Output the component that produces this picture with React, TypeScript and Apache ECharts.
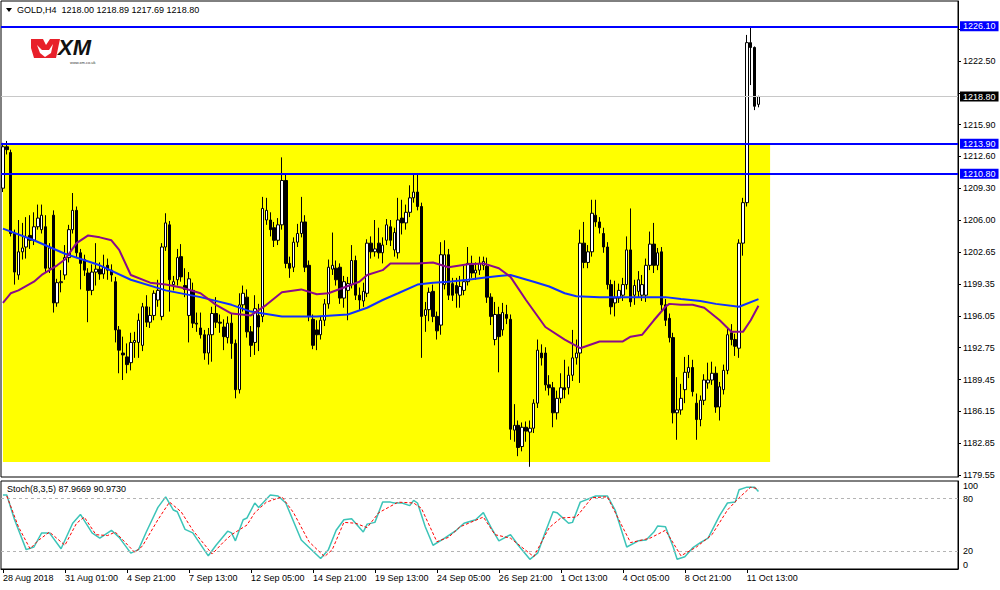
import React, { useEffect, useRef } from 'react';
import * as echarts from 'echarts';

// ---------- data ----------
const TIME_LABELS = ['28 Aug 2018', '31 Aug 01:00', '4 Sep 21:00', '7 Sep 13:00', '12 Sep 05:00', '14 Sep 21:00', '19 Sep 13:00', '24 Sep 05:00', '26 Sep 21:00', '1 Oct 13:00', '4 Oct 05:00', '8 Oct 21:00', '11 Oct 13:00'];
const BARS_PER_LABEL = 16;
const TOTAL_SLOTS = 247; // bars + empty chart shift on the right

const PRICE_TICKS = [1179.55, 1182.85, 1186.15, 1189.45, 1192.75, 1196.05, 1199.35, 1202.65, 1206.0, 1209.3, 1212.6, 1215.9, 1219.2, 1222.5, 1225.8];
const PRICE_LABELS = [1179.55, 1182.85, 1186.15, 1189.45, 1192.75, 1196.05, 1199.35, 1202.65, 1206.0, 1209.3, 1212.6, 1215.9, 1222.5];
const BLUE_LEVELS = [1226.1, 1213.9, 1210.8];
const BID_PRICE = 1218.8;
const ZONE_TOP = 1213.9;
const ZONE_BOTTOM = 1180.9;
const ZONE_LAST_BAR = 198;
const STOCH_TICKS = [0, 20, 80, 100];
const STOCH_LEVELS = [20, 80];

// [open, high, low, close]
const OHLC: number[][] = [
  [1209.3, 1214.0, 1208.9, 1213.6], [1213.6, 1214.2, 1212.8, 1213.3], [1213.0, 1213.3, 1204.3, 1204.6], [1204.6, 1205.0, 1199.3, 1200.6],
  [1200.3, 1206.0, 1199.8, 1202.7], [1202.7, 1205.7, 1201.9, 1203.1], [1203.2, 1206.3, 1202.0, 1204.2], [1204.4, 1206.5, 1203.0, 1203.9],
  [1203.9, 1206.8, 1203.4, 1205.3], [1205.3, 1207.6, 1205.0, 1206.2], [1205.0, 1207.6, 1204.6, 1206.5], [1205.3, 1206.5, 1200.6, 1201.0],
  [1201.0, 1203.6, 1200.5, 1203.1], [1206.5, 1207.0, 1196.4, 1197.4], [1197.4, 1199.9, 1197.0, 1199.5], [1199.5, 1200.8, 1198.5, 1199.6],
  [1200.3, 1203.4, 1199.8, 1202.1], [1202.1, 1205.5, 1201.6, 1205.0], [1205.0, 1208.8, 1204.6, 1207.0], [1207.0, 1207.4, 1202.1, 1202.6],
  [1202.6, 1203.0, 1198.8, 1201.5], [1201.9, 1202.4, 1200.2, 1200.8], [1200.5, 1201.0, 1195.4, 1198.7], [1198.7, 1201.4, 1198.2, 1200.6],
  [1200.6, 1203.6, 1199.2, 1200.9], [1200.9, 1201.6, 1199.8, 1200.4], [1200.4, 1202.4, 1199.9, 1201.1], [1201.3, 1202.0, 1199.8, 1200.8],
  [1200.8, 1201.4, 1199.6, 1200.3], [1199.6, 1200.1, 1193.3, 1194.6], [1194.6, 1195.0, 1190.1, 1192.5], [1192.2, 1193.9, 1189.4, 1192.0],
  [1191.8, 1193.2, 1190.1, 1191.0], [1191.2, 1194.3, 1190.4, 1193.3], [1193.3, 1194.4, 1191.7, 1193.5], [1193.3, 1196.3, 1191.7, 1195.6],
  [1193.0, 1197.4, 1192.4, 1197.0], [1197.0, 1198.2, 1194.9, 1195.4], [1195.4, 1197.0, 1194.8, 1196.1], [1196.1, 1198.7, 1195.6, 1198.4],
  [1197.7, 1199.8, 1197.0, 1198.7], [1196.0, 1203.6, 1195.6, 1203.2], [1203.2, 1206.7, 1202.8, 1205.7], [1205.5, 1205.9, 1196.5, 1199.8],
  [1199.3, 1200.2, 1198.7, 1199.6], [1199.8, 1203.0, 1199.2, 1202.1], [1202.2, 1203.5, 1199.6, 1200.1], [1199.2, 1201.0, 1198.0, 1198.8],
  [1196.1, 1200.6, 1193.3, 1199.9], [1198.7, 1199.5, 1194.8, 1195.3], [1195.3, 1196.4, 1194.4, 1195.2], [1194.8, 1196.4, 1193.7, 1194.1],
  [1194.1, 1194.6, 1191.5, 1192.2], [1192.2, 1194.8, 1191.0, 1194.1], [1194.1, 1197.0, 1191.3, 1196.3], [1196.3, 1198.0, 1194.8, 1195.4],
  [1195.4, 1196.2, 1194.3, 1195.3], [1194.9, 1195.7, 1192.5, 1193.9], [1193.8, 1196.0, 1193.2, 1195.3], [1195.3, 1196.3, 1191.6, 1193.2],
  [1193.2, 1193.6, 1187.5, 1188.4], [1188.4, 1198.4, 1188.0, 1197.2], [1197.2, 1199.2, 1196.5, 1198.4], [1198.0, 1198.8, 1193.8, 1194.4],
  [1194.4, 1195.0, 1191.8, 1193.0], [1193.3, 1198.2, 1192.0, 1196.8], [1196.1, 1197.3, 1192.4, 1194.9], [1196.0, 1208.4, 1195.4, 1207.2],
  [1206.0, 1208.3, 1205.5, 1207.0], [1206.0, 1206.8, 1204.3, 1205.0], [1205.2, 1205.8, 1203.2, 1203.9], [1203.9, 1206.2, 1203.4, 1205.5],
  [1205.5, 1212.5, 1205.0, 1210.1], [1210.1, 1210.8, 1201.0, 1201.5], [1201.5, 1202.2, 1200.0, 1201.0], [1201.1, 1204.2, 1200.6, 1203.7],
  [1203.7, 1205.6, 1203.2, 1204.6], [1204.6, 1208.4, 1204.2, 1205.8], [1205.8, 1206.5, 1200.6, 1201.1], [1201.3, 1201.8, 1195.5, 1196.0],
  [1195.7, 1196.2, 1192.6, 1193.0], [1194.6, 1195.6, 1192.5, 1194.1], [1194.1, 1196.0, 1193.6, 1195.6], [1195.6, 1197.8, 1195.0, 1197.3],
  [1197.3, 1201.9, 1196.8, 1201.1], [1200.9, 1204.7, 1200.3, 1201.3], [1201.0, 1201.8, 1199.2, 1199.8], [1201.1, 1201.5, 1197.3, 1197.9],
  [1197.9, 1200.2, 1196.9, 1199.6], [1198.7, 1200.1, 1195.6, 1199.4], [1199.3, 1203.4, 1198.9, 1201.8], [1201.8, 1202.3, 1197.7, 1198.2],
  [1198.2, 1199.0, 1196.6, 1197.7], [1197.6, 1199.5, 1197.0, 1198.6], [1198.4, 1204.0, 1198.0, 1203.6], [1203.6, 1204.3, 1202.0, 1202.7],
  [1202.7, 1206.0, 1202.2, 1203.0], [1203.6, 1205.2, 1202.0, 1202.6], [1202.6, 1204.2, 1201.5, 1203.4], [1203.9, 1206.1, 1203.4, 1205.5],
  [1205.3, 1206.0, 1203.3, 1203.9], [1202.9, 1205.2, 1202.2, 1204.7], [1202.6, 1208.3, 1202.0, 1206.0], [1206.2, 1208.1, 1204.5, 1205.7],
  [1205.7, 1207.6, 1205.0, 1206.8], [1206.8, 1209.6, 1206.3, 1208.3], [1208.3, 1210.8, 1207.8, 1208.9], [1208.9, 1210.8, 1207.0, 1207.4],
  [1207.4, 1207.8, 1191.7, 1196.0], [1196.1, 1197.5, 1194.4, 1196.7], [1196.7, 1199.0, 1195.5, 1198.5], [1198.6, 1199.3, 1195.4, 1196.0],
  [1196.0, 1196.5, 1193.6, 1194.5], [1195.1, 1203.7, 1194.1, 1202.4], [1199.3, 1203.9, 1198.8, 1202.4], [1202.4, 1203.0, 1197.7, 1198.2],
  [1199.4, 1200.0, 1197.6, 1198.2], [1199.2, 1200.0, 1196.9, 1198.4], [1198.2, 1200.2, 1196.9, 1199.1], [1198.7, 1201.3, 1198.2, 1199.6],
  [1199.6, 1203.2, 1199.2, 1201.5], [1201.5, 1202.3, 1200.0, 1200.5], [1200.5, 1201.6, 1199.8, 1200.8], [1200.8, 1202.2, 1200.3, 1201.5],
  [1201.3, 1202.2, 1200.8, 1201.7], [1201.2, 1202.1, 1197.4, 1198.0], [1198.0, 1198.4, 1195.1, 1196.0], [1193.6, 1197.5, 1193.0, 1196.2],
  [1196.2, 1197.0, 1190.2, 1193.9], [1194.6, 1197.4, 1194.0, 1196.4], [1196.2, 1197.2, 1195.2, 1195.8], [1195.7, 1196.2, 1183.2, 1184.3],
  [1184.2, 1186.9, 1183.0, 1184.7], [1184.7, 1185.2, 1181.5, 1182.4], [1182.5, 1185.0, 1182.0, 1184.5], [1184.5, 1185.1, 1183.0, 1184.1],
  [1184.0, 1185.2, 1180.4, 1184.4], [1184.4, 1187.4, 1183.9, 1187.0], [1187.0, 1193.6, 1186.5, 1192.5], [1192.2, 1193.1, 1190.9, 1191.7],
  [1192.2, 1192.8, 1188.3, 1188.9], [1188.9, 1189.9, 1187.8, 1188.6], [1188.6, 1189.2, 1184.5, 1186.0], [1186.0, 1188.3, 1185.3, 1187.5],
  [1187.5, 1190.1, 1187.0, 1188.6], [1188.6, 1191.5, 1187.5, 1188.4], [1188.6, 1190.8, 1187.9, 1189.9], [1189.9, 1194.6, 1189.3, 1191.7],
  [1191.7, 1193.6, 1191.0, 1192.2], [1192.2, 1205.0, 1189.1, 1203.6], [1203.6, 1205.8, 1201.0, 1201.6], [1201.6, 1203.4, 1201.0, 1202.7],
  [1202.7, 1208.1, 1202.2, 1206.7], [1206.5, 1208.1, 1205.3, 1205.8], [1205.8, 1206.3, 1204.6, 1205.2], [1204.6, 1205.2, 1202.6, 1203.2],
  [1203.2, 1203.7, 1198.8, 1199.3], [1199.3, 1199.8, 1196.2, 1197.0], [1197.4, 1199.7, 1196.0, 1197.9], [1197.9, 1199.4, 1197.4, 1198.7],
  [1198.2, 1200.0, 1197.6, 1199.3], [1199.3, 1204.3, 1198.8, 1202.9], [1202.9, 1207.2, 1197.0, 1197.5], [1198.2, 1199.8, 1197.2, 1199.2],
  [1198.6, 1200.7, 1198.0, 1199.8], [1198.2, 1200.3, 1197.6, 1199.3], [1198.2, 1202.0, 1197.5, 1201.3], [1201.3, 1204.8, 1200.8, 1203.5],
  [1203.5, 1205.7, 1200.5, 1201.3], [1201.3, 1203.1, 1200.8, 1202.6], [1202.7, 1203.2, 1196.6, 1197.2], [1197.2, 1197.8, 1195.0, 1195.6],
  [1195.8, 1196.3, 1193.3, 1193.8], [1193.8, 1194.3, 1184.9, 1186.0], [1186.0, 1189.7, 1183.2, 1186.3], [1186.3, 1189.0, 1185.8, 1187.5],
  [1188.4, 1191.8, 1187.0, 1190.2], [1190.2, 1192.0, 1189.6, 1190.7], [1190.7, 1191.5, 1187.7, 1188.2], [1187.0, 1188.0, 1183.2, 1185.3],
  [1185.3, 1187.8, 1184.6, 1187.3], [1187.3, 1190.0, 1186.8, 1189.4], [1189.1, 1191.2, 1188.5, 1189.4], [1189.4, 1191.3, 1188.9, 1190.1],
  [1190.1, 1190.8, 1186.0, 1186.6], [1186.6, 1189.2, 1185.2, 1188.7], [1188.4, 1191.0, 1187.9, 1190.4], [1190.4, 1194.8, 1190.0, 1194.1],
  [1194.3, 1195.2, 1193.0, 1193.6], [1193.6, 1194.2, 1191.9, 1192.9], [1192.7, 1204.0, 1191.7, 1203.6], [1203.6, 1208.3, 1202.3, 1207.8],
  [1207.8, 1225.2, 1207.4, 1224.4], [1224.4, 1226.1, 1220.0, 1223.9], [1223.9, 1224.0, 1217.4, 1217.8], [1218.0, 1218.89, 1217.69, 1218.8],
];

// [bar index, value] points
const MA_BLUE = [[0, 1205.1], [8, 1203.9], [16, 1202.5], [25, 1201.3], [33, 1199.8], [42, 1198.7], [51, 1198.0], [59, 1197.2], [64, 1196.5], [72, 1196.0], [81, 1196.0], [89, 1196.2], [94, 1196.9], [98, 1197.7], [102, 1198.4], [107, 1199.3], [111, 1199.5], [115, 1199.6], [120, 1199.8], [124, 1200.0], [128, 1200.2], [131, 1200.3], [137, 1199.6], [141, 1199.1], [145, 1198.4], [148, 1198.1], [154, 1198.0], [162, 1198.0], [171, 1198.0], [175, 1197.8], [180, 1197.6], [184, 1197.3], [190, 1197.0], [195, 1197.8]];
const MA_PURPLE = [[0, 1197.4], [2, 1198.4], [4, 1198.7], [8, 1199.6], [10, 1200.3], [14, 1201.3], [16, 1201.9], [19, 1203.6], [22, 1204.4], [25, 1204.2], [28, 1203.9], [30, 1202.9], [33, 1200.3], [38, 1199.5], [42, 1199.3], [46, 1199.0], [51, 1198.4], [55, 1197.2], [59, 1196.3], [64, 1196.1], [68, 1197.2], [72, 1198.5], [77, 1198.8], [81, 1198.3], [84, 1198.4], [88, 1199.0], [92, 1199.6], [94, 1200.3], [98, 1200.8], [100, 1201.5], [107, 1201.5], [111, 1201.6], [115, 1201.1], [120, 1201.4], [124, 1201.5], [128, 1201.0], [131, 1200.1], [135, 1197.7], [140, 1194.9], [145, 1193.6], [149, 1192.7], [154, 1193.4], [160, 1193.4], [162, 1193.9], [165, 1194.1], [168, 1195.6], [171, 1197.0], [172, 1197.3], [175, 1197.2], [178, 1197.2], [181, 1196.9], [185, 1195.6], [188, 1194.4], [191, 1194.4], [193, 1195.6], [195, 1197.1]];
const STOCH_MAIN = [[0, 84], [1, 84], [3, 56], [6, 22], [8, 25], [10, 41], [12, 41], [15, 23], [18, 52], [20, 62], [23, 41], [25, 35], [28, 44], [30, 36], [33, 18], [35, 22], [37, 42], [40, 70], [42, 82], [44, 67], [45, 65], [47, 45], [49, 41], [53, 15], [55, 27], [58, 43], [59, 41], [60, 32], [62, 56], [63, 58], [65, 75], [66, 70], [69, 84], [71, 83], [73, 75], [77, 33], [82, 12], [84, 22], [86, 44], [88, 56], [90, 57], [93, 42], [94, 51], [96, 53], [98, 76], [100, 76], [101, 75], [103, 75], [105, 72], [106, 78], [107, 75], [109, 48], [111, 27], [114, 35], [117, 44], [119, 52], [122, 56], [124, 64], [126, 47], [128, 32], [131, 39], [133, 27], [136, 11], [138, 18], [140, 42], [142, 65], [143, 64], [146, 52], [147, 53], [149, 76], [153, 83], [156, 83], [158, 67], [161, 25], [164, 32], [166, 33], [168, 42], [169, 49], [171, 48], [173, 25], [174, 11], [176, 14], [178, 24], [180, 30], [182, 35], [185, 61], [187, 75], [189, 76], [190, 90], [192, 93], [194, 93], [195, 87.97]];
const STOCH_SIGNAL = [[1, 83], [4, 48], [7, 23], [9, 32], [12, 42], [16, 27], [19, 52], [21, 59], [24, 39], [27, 38], [29, 42], [34, 19], [36, 26], [40, 56], [43, 76], [46, 65], [49, 44], [54, 17], [57, 31], [59, 39], [63, 50], [65, 64], [68, 76], [72, 82], [75, 64], [79, 31], [83, 14], [85, 22], [88, 53], [91, 52], [94, 47], [97, 64], [102, 76], [106, 75], [108, 69], [112, 31], [115, 36], [118, 48], [124, 59], [127, 39], [131, 35], [137, 14], [141, 47], [144, 58], [148, 59], [152, 81], [156, 82], [160, 47], [162, 30], [167, 35], [171, 44], [175, 15], [179, 25], [183, 39], [187, 67], [190, 81], [193, 93], [195, 90.97]];

const FONT = "'Liberation Sans',Arial,sans-serif";
const FS = 9;

function buildOption(): any {
  const slots = Array.from({ length: TOTAL_SLOTS }, (_, i) => String(i));
  const isLabelIdx = (idx: number) => idx % BARS_PER_LABEL === 0 && idx / BARS_PER_LABEL < TIME_LABELS.length;
  const candleData = OHLC.map(([o, h, l, c]) => [o, c, l, h]);

  const levelLines = [
    ...BLUE_LEVELS.map((v) => ({
      yAxis: v,
      lineStyle: { color: '#0000ff', width: 2, type: 'solid' },
      label: { backgroundColor: '#0000ff', color: '#ffffff' },
    })),
    {
      yAxis: BID_PRICE,
      lineStyle: { color: '#c8c8c8', width: 1, type: 'solid' },
      label: { backgroundColor: '#000000', color: '#ffffff' },
    },
  ];

  const gridBase = { left: 1, width: 957, show: true, borderColor: '#000', borderWidth: 1, backgroundColor: '#ffffff', containLabel: false, outerBoundsMode: 'none' };

  return {
    animation: false,
    backgroundColor: '#ffffff',
    textStyle: { fontFamily: FONT },
    grid: [
      { ...gridBase, top: 1, height: 476 },
      { ...gridBase, top: 481, height: 88 },
    ],
    xAxis: [
      { type: 'category', gridIndex: 0, data: slots, boundaryGap: true, show: false },
      {
        type: 'category', gridIndex: 1, data: slots, boundaryGap: true,
        axisLine: { show: true, lineStyle: { color: '#000', width: 1 } },
        axisTick: { show: true, alignWithLabel: true, length: 4, interval: (i: number) => isLabelIdx(i), lineStyle: { color: '#000' } },
        axisLabel: {
          show: true, interval: (i: number) => isLabelIdx(i), showMinLabel: true, hideOverlap: false,
          formatter: (_v: string, idx: number) => (isLabelIdx(idx) ? TIME_LABELS[idx / BARS_PER_LABEL] : ''),
          align: 'left', margin: 4, color: '#000', fontSize: FS, fontFamily: FONT,
        },
        splitLine: { show: false },
      },
    ],
    yAxis: [
      {
        type: 'value', gridIndex: 0, position: 'right', min: 1179.34, max: 1228.72,
        axisLine: { show: true, lineStyle: { color: '#000' } },
        axisTick: { show: true, length: 3, customValues: PRICE_TICKS, lineStyle: { color: '#000' } },
        axisLabel: { show: true, customValues: PRICE_LABELS, formatter: (v: number) => v.toFixed(2), margin: 5, color: '#000', fontSize: FS, fontFamily: FONT },
        splitLine: { show: false },
      },
      {
        type: 'value', gridIndex: 1, position: 'right', min: 0, max: 100,
        axisLine: { show: true, lineStyle: { color: '#000' } },
        axisTick: { show: false },
        axisLabel: {
          show: true, customValues: STOCH_TICKS, margin: 5, color: '#000', fontSize: FS, fontFamily: FONT,
          verticalAlignMinLabel: 'bottom', verticalAlignMaxLabel: 'top',
        },
        splitLine: { show: false },
      },
    ],
    series: [
      {
        name: 'zone', type: 'line', xAxisIndex: 0, yAxisIndex: 0, data: [], z: 1, silent: true,
        markArea: {
          silent: true,
          itemStyle: { color: '#ffff00', opacity: 1 },
          data: [[{ xAxis: 0, yAxis: ZONE_TOP }, { xAxis: ZONE_LAST_BAR, yAxis: ZONE_BOTTOM }]],
        },
      },
      {
        name: 'GOLD,H4', type: 'candlestick', xAxisIndex: 0, yAxisIndex: 0, data: candleData, z: 3,
        barWidth: 3,
        itemStyle: { color: '#ffffff', color0: '#000000', borderColor: '#000000', borderColor0: '#000000', borderWidth: 1 },
      },
      {
        name: 'MA blue', type: 'line', xAxisIndex: 0, yAxisIndex: 0, data: MA_BLUE, z: 4, symbol: 'none',
        lineStyle: { color: '#1030ff', width: 2 },
      },
      {
        name: 'MA purple', type: 'line', xAxisIndex: 0, yAxisIndex: 0, data: MA_PURPLE, z: 4, symbol: 'none',
        lineStyle: { color: '#8a0a8a', width: 2 },
      },
      {
        name: 'levels', type: 'line', xAxisIndex: 0, yAxisIndex: 0, data: [], z: 5, clip: false,
        markLine: {
          silent: true, symbol: ['none', 'none'], animation: false,
          label: {
            show: true, position: 'end', distance: 2, formatter: (p: any) => Number(p.value).toFixed(2),
            fontSize: FS, fontFamily: FONT, padding: [1, 3, 0, 3],
          },
          data: levelLines,
        },
      },
      {
        name: 'levels20/80', type: 'line', xAxisIndex: 1, yAxisIndex: 1, data: [], z: 2,
        markLine: {
          silent: true, symbol: ['none', 'none'], label: { show: false },
          lineStyle: { color: '#b4b4b4', width: 1, type: [3, 3] },
          data: STOCH_LEVELS.map((v) => ({ yAxis: v })),
        },
      },
      {
        name: 'Stoch main', type: 'line', xAxisIndex: 1, yAxisIndex: 1, data: STOCH_MAIN, z: 4, symbol: 'none',
        lineStyle: { color: '#3cc4b8', width: 1.5 },
      },
      {
        name: 'Stoch signal', type: 'line', xAxisIndex: 1, yAxisIndex: 1, data: STOCH_SIGNAL, z: 5, symbol: 'none',
        lineStyle: { color: '#ff0000', width: 1, type: [3, 2] },
      },
    ],
    graphic: [
      { type: 'polygon', z: 100, shape: { points: [[6, 8], [12, 8], [9, 12]] }, style: { fill: '#000' } },
      { type: 'text', z: 100, x: 17, y: 10, style: { text: 'GOLD,H4  1218.00 1218.89 1217.69 1218.80', fill: '#000', font: `${FS}px ${FONT}`, verticalAlign: 'middle' } },
      { type: 'text', z: 100, x: 7, y: 489, style: { text: 'Stoch(8,3,5) 87.9669 90.9730', fill: '#000', font: `${FS}px ${FONT}`, verticalAlign: 'middle' } },
      // XM logo
      { type: 'polygon', z: 100, shape: { points: [[31, 39], [43, 39], [46, 45], [50, 39], [60, 39], [56, 58], [34, 58], [31, 48]] }, style: { fill: '#e8202a' } },
      { type: 'polygon', z: 101, shape: { points: [[37, 45], [42, 50], [49, 50], [53, 44], [51, 53], [45, 57], [40, 53]] }, style: { fill: '#ffffff' } },
      { type: 'text', z: 100, x: 58, y: 47, style: { text: 'XM', fill: '#111', font: `italic bold 22px 'Liberation Sans', Arial, sans-serif`, verticalAlign: 'middle' } },
      { type: 'text', z: 100, x: 70, y: 62, style: { text: 'www.xm.co.uk', fill: '#333', font: `4px 'Liberation Sans', Arial, sans-serif`, verticalAlign: 'middle' } },
    ],
  };
}

export default function App() {
  const ref = useRef<HTMLDivElement>(null);
  useEffect(() => {
    if (!ref.current) return;
    const chart = echarts.init(ref.current, null, { renderer: 'svg' });
    chart.setOption(buildOption());
    return () => chart.dispose();
  }, []);
  return <div ref={ref} style={{ position: 'absolute', left: 0, top: 0, width: 1000, height: 590, background: '#fff' }} />;
}
